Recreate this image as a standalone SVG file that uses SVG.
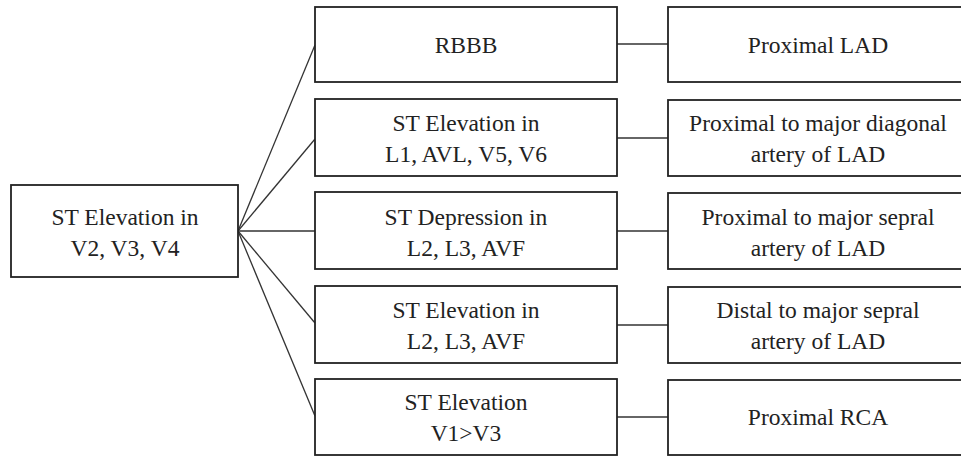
<svg xmlns="http://www.w3.org/2000/svg" width="961" height="457" viewBox="0 0 961 457">
<style>
rect{fill:#fff;stroke:#222;stroke-width:1.8}
text{font-family:'Liberation Serif','Times New Roman',serif;font-size:23.5px;fill:#222;text-anchor:middle}
#connectors line{stroke:#333;stroke-width:1.3}
</style>
<rect x="0" y="0" width="961" height="457" style="stroke:none"/>
<g id="connectors">
<line x1="238" y1="231" x2="315" y2="45"/>
<line x1="238" y1="231" x2="315" y2="139"/>
<line x1="238" y1="231" x2="315" y2="231"/>
<line x1="238" y1="231" x2="315" y2="323"/>
<line x1="238" y1="231" x2="315" y2="416"/>
<line x1="617" y1="44" x2="668" y2="44"/>
<line x1="617" y1="138" x2="668" y2="138"/>
<line x1="617" y1="231" x2="668" y2="231"/>
<line x1="617" y1="325" x2="668" y2="325"/>
<line x1="617" y1="417" x2="668" y2="417"/>
</g>
<g id="root">
<rect x="11" y="185" width="227" height="92"/>
<text x="125" y="225">ST Elevation in</text>
<text x="125" y="256">V2, V3, V4</text>
</g>
<g id="m1">
<rect x="315" y="7" width="302" height="75"/>
<text x="466" y="53">RBBB</text>
</g>
<g id="m2">
<rect x="315" y="99" width="302" height="77"/>
<text x="466" y="131">ST Elevation in</text>
<text x="466" y="162">L1, AVL, V5, V6</text>
</g>
<g id="m3">
<rect x="315" y="192" width="302" height="77"/>
<text x="466" y="225">ST Depression in</text>
<text x="466" y="256">L2, L3, AVF</text>
</g>
<g id="m4">
<rect x="315" y="286" width="302" height="77"/>
<text x="466" y="318">ST Elevation in</text>
<text x="466" y="349">L2, L3, AVF</text>
</g>
<g id="m5">
<rect x="315" y="379" width="302" height="76"/>
<text x="466" y="410">ST Elevation</text>
<text x="466" y="441">V1&gt;V3</text>
</g>
<g id="r1">
<rect x="668" y="7" width="300" height="75"/>
<text x="818" y="53">Proximal LAD</text>
</g>
<g id="r2">
<rect x="668" y="100" width="300" height="76"/>
<text x="818" y="131">Proximal to major diagonal</text>
<text x="818" y="162">artery of LAD</text>
</g>
<g id="r3">
<rect x="668" y="193" width="300" height="76"/>
<text x="818" y="225">Proximal to major sepral</text>
<text x="818" y="256">artery of LAD</text>
</g>
<g id="r4">
<rect x="668" y="287" width="300" height="76"/>
<text x="818" y="318">Distal to major sepral</text>
<text x="818" y="349">artery of LAD</text>
</g>
<g id="r5">
<rect x="668" y="380" width="300" height="75"/>
<text x="818" y="425">Proximal RCA</text>
</g>
</svg>
